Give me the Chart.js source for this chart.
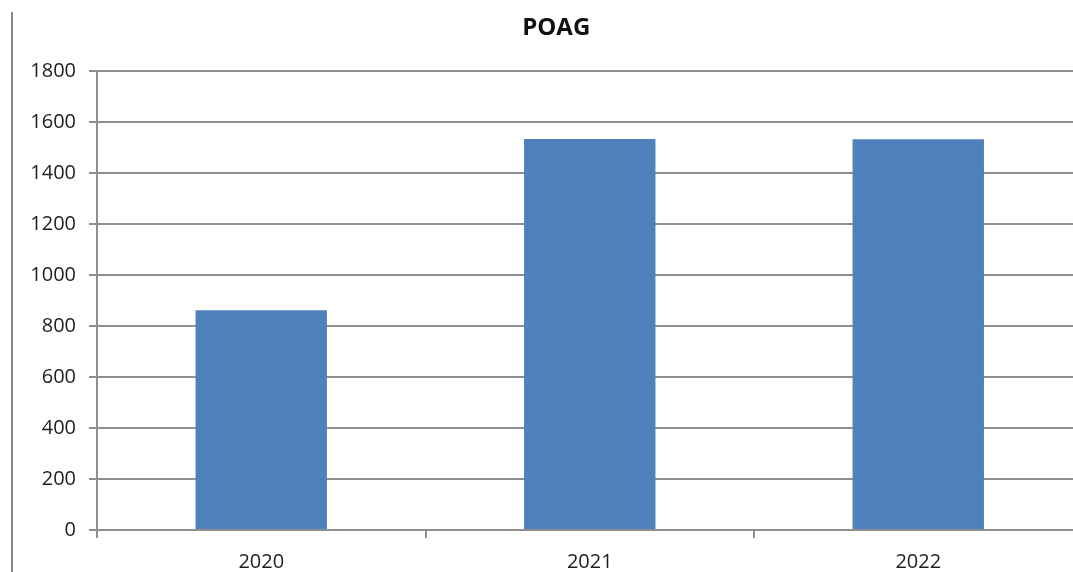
<!DOCTYPE html>
<html>
<head>
<meta charset="utf-8">
<script src="https://cdn.jsdelivr.net/npm/chart.js@4/dist/chart.umd.min.js"></script>
<style>
  html, body { margin: 0; padding: 0; background: #fff; overflow: hidden; }
  #wrap { position: relative; width: 1120px; height: 572px; }
  #frame { position: absolute; left: 11px; top: 12px; width: 2px; height: 560px; background: #8a8a8a; }
</style>
</head>
<body>
<div id="wrap">
  <canvas id="chart" width="1120" height="572"></canvas>
  <div id="frame"></div>
</div>
<script>
const years = ['2020', '2021', '2022'];
const poagCases = [861, 1533, 1532];
const yTicks = [0, 200, 400, 600, 800, 1000, 1200, 1400, 1600, 1800];

const gridGray = '#8f8f8f';
const textColor = '#1e1e1e';
const tickFont = { family: "'Open Sans', sans-serif", size: 20 };

new Chart(document.getElementById('chart'), {
  type: 'bar',
  data: {
    labels: years,
    datasets: [{
      label: 'POAG',
      data: poagCases,
      backgroundColor: '#4f81bd',
      borderWidth: 0,
      barPercentage: 0.4,
      categoryPercentage: 1.0
    }]
  },
  options: {
    responsive: false,
    animation: false,
    // side padding pulls the title left so it sits over the middle of the frame
    layout: { padding: { left: 30, right: 37.5, top: 0, bottom: 0 } },
    plugins: {
      legend: { display: false },
      tooltip: { enabled: false },
      title: {
        display: true,
        text: 'POAG',
        color: '#111',
        font: { family: "'Open Sans', sans-serif", size: 24, weight: 'bold' },
        padding: { top: 14, bottom: 28 }
      }
    },
    scales: {
      x: {
        border: { color: gridGray, width: 2 },
        grid: { drawOnChartArea: false, offset: true, tickLength: 8, color: gridGray, lineWidth: 2 },
        ticks: { color: textColor, font: tickFont, padding: 12 },
        afterFit: (scale) => { scale.height = 42; }
      },
      y: {
        min: 0,
        max: 1800,
        clip: false,
        afterBuildTicks: (scale) => { scale.ticks = yTicks.map(v => ({ value: v })); },
        border: { color: gridGray, width: 2 },
        grid: { color: gridGray, lineWidth: 2, tickLength: 8 },
        ticks: { color: textColor, font: tickFont, padding: 13, callback: (v) => String(v) },
        afterFit: (scale) => { scale.width = 67; }
      }
    }
  }
});
</script>
</body>
</html>
